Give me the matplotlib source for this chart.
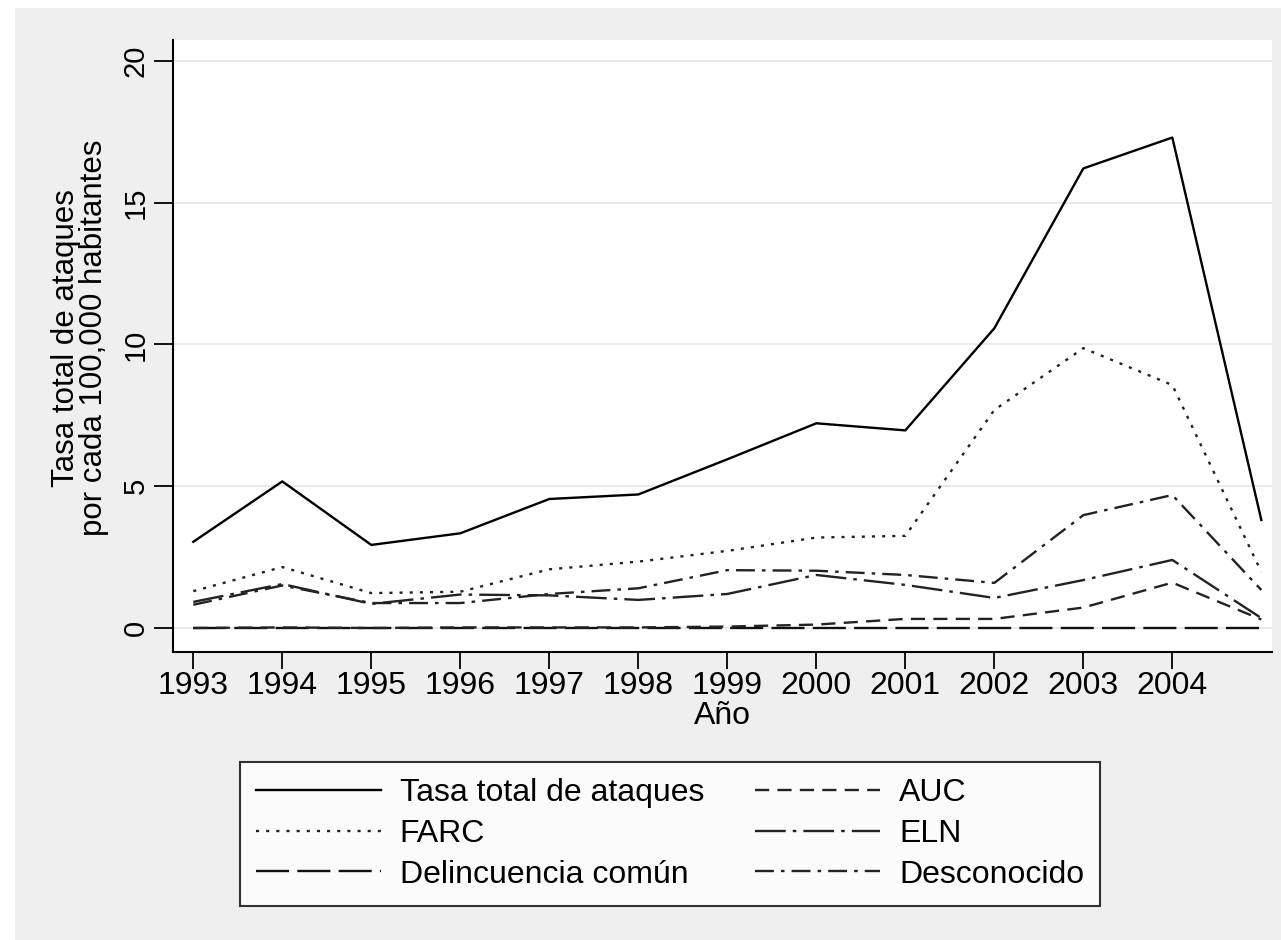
import numpy as np
import matplotlib.pyplot as plt
from matplotlib.patches import Rectangle

plt.rcParams['font.family'] = ['Liberation Sans', 'DejaVu Sans']

years = [1993, 1994, 1995, 1996, 1997, 1998, 1999, 2000, 2001, 2002, 2003, 2004, 2005]
total = [3.04, 5.17, 2.93, 3.34, 4.55, 4.71, 5.95, 7.22, 6.97, 10.57, 16.21, 17.30, 3.81]
farc = [1.30, 2.15, 1.23, 1.28, 2.07, 2.34, 2.72, 3.19, 3.25, 7.69, 9.87, 8.57, 1.98]
delincuencia = [0.00, 0.00, 0.00, 0.00, 0.00, 0.00, 0.00, 0.00, 0.00, 0.00, 0.00, 0.00, 0.00]
auc = [0.00, 0.02, 0.00, 0.02, 0.02, 0.02, 0.05, 0.12, 0.32, 0.32, 0.72, 1.60, 0.30]
eln = [0.92, 1.55, 0.85, 1.18, 1.15, 0.99, 1.20, 1.87, 1.52, 1.06, 1.69, 2.40, 0.35]
desconocido = [0.82, 1.50, 0.88, 0.88, 1.20, 1.40, 2.04, 2.02, 1.87, 1.59, 3.98, 4.69, 1.34]

yticks = [0, 5, 10, 15, 20]
xticks = years[:-1]

fig = plt.figure(figsize=(12.81, 9.40), dpi=100, facecolor='white')
# fondo gris tipo Stata
fig.patches.append(Rectangle((15 / 1281, 0), 1, 1 - 8 / 940, transform=fig.transFigure,
                             facecolor='#efefef', edgecolor='none', zorder=-10))

ax = fig.add_axes([173 / 1281, 1 - 652 / 940, (1272 - 173) / 1281, (652 - 40) / 940])
ax.set_facecolor('white')

lw = 1.7
ax.plot(years, total, color='black', lw=lw, label='Tasa total de ataques')
ax.plot(years, farc, color='#222222', lw=lw, ls=(0, (1.3, 3.0)), label='FARC')
ax.plot(years, delincuencia, color='#111111', lw=lw, ls=(0, (14, 3.5)), label='Delincuencia común')
ax.plot(years, auc, color='#222222', lw=lw, ls=(0, (6, 3.5)), label='AUC')
ax.plot(years, eln, color='#222222', lw=lw, ls=(0, (13, 3, 1.5, 3)), label='ELN')
ax.plot(years, desconocido, color='#222222', lw=lw, ls=(0, (8, 3, 1.5, 3)), label='Desconocido')

ax.set_xlim(1992.772, 2005.12)
ax.set_ylim(-0.847, 20.74)
ax.set_xticks(xticks)
ax.set_yticks(yticks)
ax.set_xticklabels([str(y) for y in xticks], fontsize=23)
ax.set_yticklabels([str(v) for v in yticks], fontsize=21, rotation=90, va='center')
ax.tick_params(axis='x', direction='out', length=12, width=1.3, color='black', pad=2)
ax.tick_params(axis='y', direction='out', length=14, width=1.3, color='black', pad=3)
ax.grid(axis='y', color='#e6e6e6', lw=1.2)
ax.set_axisbelow(True)
for s in ['top', 'right']:
    ax.spines[s].set_visible(False)
for s in ['left', 'bottom']:
    ax.spines[s].set_linewidth(1.5)

ax.set_xlabel('Año', fontsize=23, labelpad=0)
fig.text(80 / 1281, 1 - 338 / 940, 'Tasa total de ataques\npor cada 100,000 habitantes',
         rotation=90, ha='center', va='center', fontsize=22.5, linespacing=0.95)

leg = fig.legend(ncol=2, loc='center', bbox_to_anchor=(670 / 1281, 1 - 834 / 940),
                 fontsize=23, frameon=True, fancybox=False, edgecolor='black',
                 handlelength=3.9, columnspacing=1.6, handletextpad=0.6, labelspacing=0.33,
                 borderpad=0.5)
leg.get_frame().set_linewidth(1.5)
leg.get_frame().set_facecolor('white')

fig.savefig('out.png', dpi=100, facecolor=fig.get_facecolor())
